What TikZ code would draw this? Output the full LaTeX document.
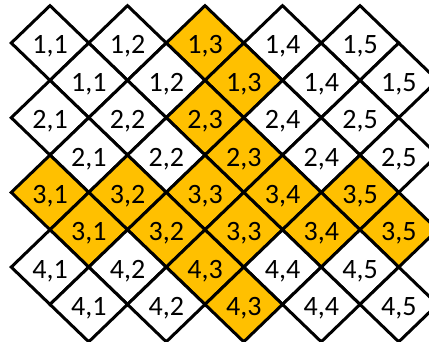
\documentclass[tikz,border=0pt]{standalone}
\usepackage{fontspec}
\setmainfont{Carlito}
\usetikzlibrary{shapes.geometric, positioning}
\definecolor{gold}{HTML}{FFC000}

\begin{document}
\begin{tikzpicture}[
		x=1pt, y=1pt,
		node distance = 0pt,
		cell/.style = {draw, diamond, line width=3pt, fill=white, inner sep=0pt, outer sep=0pt, minimum width=77.5pt, minimum height=74.7pt, font=\fontsize{28}{32}\selectfont, text height=22pt, text depth=0pt},
		hot/.style = {cell, fill=gold}
		]
		
		\clip (0,0) rectangle (429,342);
		
		% first row
		\node [cell] (a11) at (50,299) {1,1};
		\node [cell, right=of a11] (a12) {1,2};
		\node [hot, right=of a12] (a13) {1,3};
		\node [cell, right=of a13] (a14) {1,4};
		\node [cell, right=of a14] (a15) {1,5};
		\node [cell, below right=of a11] (b11) {1,1};
		\node [cell, right=of b11] (b12) {1,2};
		\node [hot, right=of b12] (b13) {1,3};
		\node [cell, right=of b13] (b14) {1,4};
		\node [cell, right=of b14] (b15) {1,5};
		
		% second row
		\node [cell, below=of a11] (a21) {2,1};
		\node [cell, right=of a21] (a22) {2,2};
		\node [hot, right=of a22] (a23) {2,3};
		\node [cell, right=of a23] (a24) {2,4};
		\node [cell, right=of a24] (a25) {2,5};
		\node [cell, below right=of a21] (b21) {2,1};
		\node [cell, right=of b21] (b22) {2,2};
		\node [hot, right=of b22] (b23) {2,3};
		\node [cell, right=of b23] (b24) {2,4};
		\node [cell, right=of b24] (b25) {2,5};
		
		% third row
		\node [hot, below=of a21] (a31) {3,1};
		\node [hot, right=of a31] (a32) {3,2};
		\node [hot, right=of a32] (a33) {3,3};
		\node [hot, right=of a33] (a34) {3,4};
		\node [hot, right=of a34] (a35) {3,5};
		\node [hot, below right=of a31] (b31) {3,1};
		\node [hot, right=of b31] (b32) {3,2};
		\node [hot, right=of b32] (b33) {3,3};
		\node [hot, right=of b33] (b34) {3,4};
		\node [hot, right=of b34] (b35) {3,5};
		
		% fourth row
		\node [cell, below=of a31] (a41) {4,1};
		\node [cell, right=of a41] (a42) {4,2};
		\node [hot, right=of a42] (a43) {4,3};
		\node [cell, right=of a43] (a44) {4,4};
		\node [cell, right=of a44] (a45) {4,5};
		\node [cell, below right=of a41] (b41) {4,1};
		\node [cell, right=of b41] (b42) {4,2};
		\node [hot, right=of b42] (b43) {4,3};
		\node [cell, right=of b43] (b44) {4,4};
		\node [cell, right=of b44] (b45) {4,5};
		
	\end{tikzpicture}
\end{document}
